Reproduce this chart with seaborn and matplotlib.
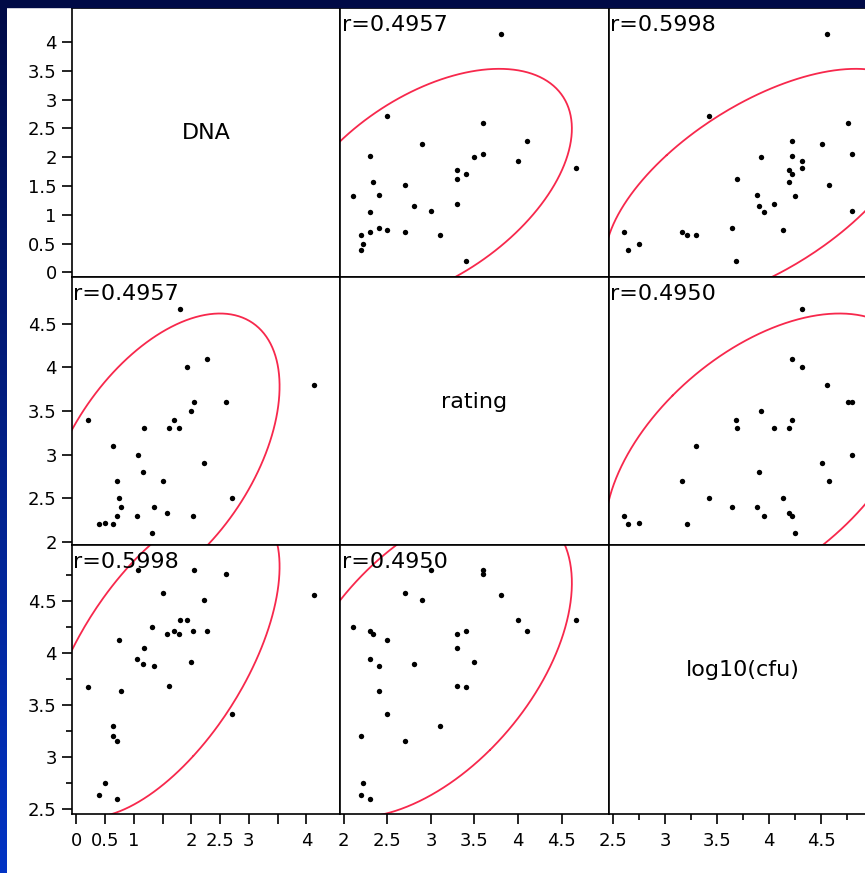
import numpy as np
import pandas as pd
import seaborn as sns
import matplotlib.pyplot as plt
from matplotlib.colors import LinearSegmentedColormap
from matplotlib.patches import Rectangle
from matplotlib.ticker import FixedLocator

# values (30 samples)
dna = [4.14, 2.71, 2.60, 2.28, 2.22, 2.02, 2.05, 2.00, 1.93, 1.81,
       1.78, 1.70, 1.62, 1.57, 1.51, 1.35, 1.32, 1.16, 1.18, 1.07,
       1.05, 0.77, 0.74, 0.70, 0.70, 0.64, 0.64, 0.50, 0.39, 0.20]
rating = [3.80, 2.50, 3.60, 4.10, 2.90, 2.30, 3.60, 3.50, 4.00, 4.67,
          3.30, 3.40, 3.30, 2.33, 2.70, 2.40, 2.10, 2.80, 3.30, 3.00,
          2.30, 2.40, 2.50, 2.30, 2.70, 3.10, 2.20, 2.22, 2.20, 3.40]
cfu = [4.56, 3.42, 4.76, 4.22, 4.51, 4.22, 4.80, 3.92, 4.32, 4.32,
       4.19, 4.22, 3.69, 4.19, 4.58, 3.88, 4.25, 3.90, 4.05, 4.80,
       3.95, 3.64, 4.13, 2.60, 3.16, 3.30, 3.21, 2.75, 2.64, 3.68]

var_names = ['DNA', 'rating', 'log10(cfu)']
# correlations printed in the panels: (DNA,rating), (DNA,cfu), (rating,cfu)
r_values = {(0, 1): 0.4957, (0, 2): 0.5998, (1, 2): 0.4950}

limits = [(-0.075, 4.59), (1.96, 5.04), (2.455, 5.04)]
major_ticks = [[0, 0.5, 1, 1.5, 2, 2.5, 3, 3.5, 4],
               [2, 2.5, 3, 3.5, 4, 4.5],
               [2.5, 3, 3.5, 4, 4.5]]
minor_ticks = [[], [], [2.75, 3.25, 3.75, 4.25, 4.75]]
dna_xlabels = ['0', '0.5', '1', '', '2', '2.5', '3', '', '4']

df = pd.DataFrame({'DNA': dna, 'rating': rating, 'log10(cfu)': cfu})


def density_ellipse(x, y, k2=5.991, n=300):
    # 95% bivariate normal density ellipse
    x = np.asarray(x)
    y = np.asarray(y)
    cov = np.cov(x, y)
    vals, vecs = np.linalg.eigh(cov)
    t = np.linspace(0, 2 * np.pi, n)
    circ = np.vstack([np.cos(t), np.sin(t)]) * np.sqrt(vals)[:, None]
    pts = vecs @ circ * np.sqrt(k2)
    return x.mean() + pts[0], y.mean() + pts[1]


sns.set_theme(style='ticks', rc={'axes.edgecolor': 'black', 'axes.linewidth': 1.2,
                                 'xtick.color': 'black', 'ytick.color': 'black',
                                 'text.color': 'black'})
plt.rcParams['font.family'] = ['DejaVu Sans']

fig, axes = plt.subplots(3, 3, figsize=(8.65, 8.73), dpi=100, sharex='col', sharey='row')
fig.patch.set_facecolor('white')
fig.subplots_adjust(left=72 / 865, right=877 / 865, top=1 - 8 / 873, bottom=1 - 814 / 873,
                    wspace=0, hspace=0)

for i in range(3):
    for j in range(3):
        ax = axes[i, j]
        ax.set_facecolor('white')
        if i == j:
            ax.text(0.5, 0.535, var_names[i], transform=ax.transAxes,
                    ha='center', va='center', fontsize=16)
        else:
            xv, yv = var_names[j], var_names[i]
            ex, ey = density_ellipse(df[xv], df[yv])
            ax.plot(ex, ey, color='#f7284c', lw=1.3, zorder=2)
            sns.scatterplot(data=df, x=xv, y=yv, ax=ax, color='black', s=15,
                            linewidth=0, legend=False, zorder=3)
            r = r_values[(min(i, j), max(i, j))]
            ax.annotate('r=%.4f' % r, xy=(0, 1), xycoords='axes fraction',
                        xytext=(1, -5), textcoords='offset points',
                        ha='left', va='top', fontsize=16, zorder=4)
        ax.set_xlabel('')
        ax.set_ylabel('')
        for s in ax.spines.values():
            s.set_visible(True)
            s.set_color('black')
            s.set_linewidth(1.2)
        ax.tick_params(which='both', direction='out', left=(j == 0), bottom=(i == 2),
                       labelleft=(j == 0), labelbottom=(i == 2), labelsize=13,
                       length=7.5, width=1.2, pad=3.5)
        ax.tick_params(axis='x', pad=5.5)
        ax.tick_params(which='minor', length=4)

for k in range(3):
    axes[2, k].set_xlim(limits[k])
    axes[k, 0].set_ylim(limits[k])
    axes[2, k].xaxis.set_major_locator(FixedLocator(major_ticks[k]))
    axes[k, 0].yaxis.set_major_locator(FixedLocator(major_ticks[k]))
    axes[2, k].xaxis.set_minor_locator(FixedLocator(minor_ticks[k]))
    axes[k, 0].yaxis.set_minor_locator(FixedLocator(minor_ticks[k]))

axes[2, 0].set_xticklabels(dna_xlabels)
axes[2, 1].set_xticklabels(['2', '2.5', '3', '3.5', '4', '4.5'])
axes[2, 2].set_xticklabels(['2.5', '3', '3.5', '4', '4.5'])
axes[0, 0].set_yticklabels(['0', '0.5', '1', '1.5', '2', '2.5', '3', '3.5', '4'])
axes[1, 0].set_yticklabels(['2', '2.5', '3', '3.5', '4', '4.5'])
axes[2, 0].set_yticklabels(['2.5', '3', '3.5', '4', '4.5'])

# slide-style blue frame on the top and left edges
strip = fig.add_axes([0, 0, 7 / 865, 1])
cmap = LinearSegmentedColormap.from_list('frame', ['#000a46', '#0334c4'])
strip.imshow(np.linspace(0, 1, 256)[:, None], aspect='auto', cmap=cmap)
strip.set_axis_off()
fig.add_artist(Rectangle((0, 1 - 7 / 873), 1, 7 / 873, transform=fig.transFigure,
                         color='#000a46', zorder=10))

fig.savefig('out.png', dpi=100, facecolor='white')
